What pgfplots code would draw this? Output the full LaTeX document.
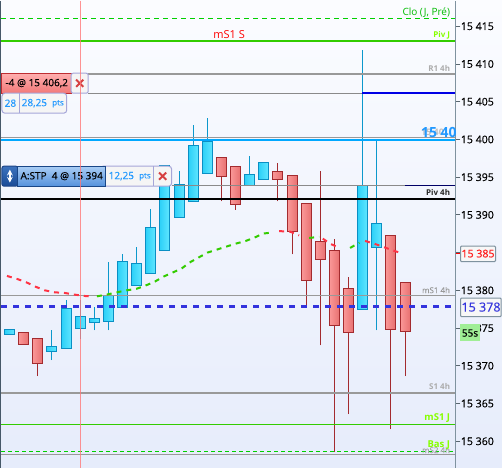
\documentclass[border=0pt]{standalone}
\usepackage{fontspec}
\setmainfont{Open Sans}
\newfontfamily\semi[FakeBold=0.4]{Open Sans}
\usepackage{pgfplots}
\pgfplotsset{compat=1.18}
\definecolor{bluebd}{HTML}{0A8FC4}
\definecolor{bluewk}{HTML}{0C98CC}
\definecolor{redbd}{HTML}{A32B2F}
\definecolor{redwk}{HTML}{A32B2F}
\definecolor{ggreen}{HTML}{33CC00}
\definecolor{dgreen}{HTML}{00D000}
\definecolor{lblue}{HTML}{00A8FF}
\definecolor{gline}{HTML}{999999}
\definecolor{dashblue}{HTML}{3333DD}
\definecolor{txtblue}{HTML}{2299FF}
\definecolor{boxbd}{HTML}{7F929F}
\definecolor{bodyBl}{HTML}{2CD0F8}
\definecolor{bodyBr}{HTML}{60E6FF}
\definecolor{bodyRl}{HTML}{FA9898}
\definecolor{bodyRr}{HTML}{E87070}
\definecolor{maRed}{HTML}{FF3344}
\newcommand\candleU[5]{%
  \pgfmathsetmacro\xa{#1-5}\pgfmathsetmacro\xb{#1+5}%
  \addplot[draw=bluewk,line width=1pt,forget plot] coordinates {(#1,#4)(#1,#5)};
  \addplot[draw=bluebd,line width=1pt,left color=bodyBl,right color=bodyBr,forget plot]
    coordinates {(\xa,#2)(\xb,#2)(\xb,#3)(\xa,#3)} --cycle;
  \addplot[draw=none,forget plot] coordinates {(#1,#2)};
}
\newcommand\candleD[5]{%
  \pgfmathsetmacro\xa{#1-5}\pgfmathsetmacro\xb{#1+5}%
  \addplot[draw=redwk,line width=1pt,forget plot] coordinates {(#1,#4)(#1,#5)};
  \addplot[draw=redbd,line width=1pt,left color=bodyRl,right color=bodyRr,forget plot]
    coordinates {(\xa,#2)(\xb,#2)(\xb,#3)(\xa,#3)} --cycle;
  \addplot[draw=none,forget plot] coordinates {(#1,#2)};
}
\newcommand\xmark[2]{\draw[color={rgb,255:red,214;green,64;blue,64},line width=2pt] (#1-3.6,#2-3.6)--(#1+3.6,#2+3.6) (#1-3.6,#2+3.6)--(#1+3.6,#2-3.6);}
\begin{document}
\begin{tikzpicture}[every node/.style={inner sep=0pt,outer sep=0pt}]
\shade[top color={rgb,255:red,251;green,252;blue,255},bottom color={rgb,255:red,230;green,236;blue,251}] (0,0) rectangle (502pt,467pt);
\begin{axis}[
  at={(0,0)},anchor=south west,scale only axis,width=455.3pt,height=467pt,
  xmin=0,xmax=455.3,ymin=15356.52,ymax=15418.38,
  axis x line=none,axis y line*=right,
  scaled y ticks=false,
  axis line style={draw=boxbd,line width=0.8pt},
  ytick={15360,15365,15370,15375,15380,15385,15390,15395,15400,15405,15410,15415},
  yticklabels={15 360,15 365,15 370,15 375,15 380,15 385,15 390,15 395,15 400,15 405,15 410,15 415},
  yticklabel style={font=\fontsize{10.6}{12}\selectfont\semi,text=black,xshift=0.5pt},
  y tick style={draw=boxbd!70!black,line width=0.8pt},
  tick align=outside,major tick length=5pt,
  clip=true]
% candles: x, body low, body high, wick low, wick high
\candleU{9.5}{15374.10}{15374.76}{15374.10}{15374.76}
\candleD{23.3}{15372.77}{15374.36}{15372.77}{15374.36}
\candleD{37.3}{15370.26}{15373.57}{15368.62}{15373.57}
\candleU{51.3}{15371.85}{15372.51}{15370.74}{15374.76}
\candleU{66.3}{15372.25}{15377.54}{15372.25}{15378.77}
\candleU{80.3}{15374.89}{15376.48}{15373.61}{15378.77}
\candleU{94.3}{15375.69}{15376.22}{15374.71}{15377.81}
\candleU{108.3}{15375.90}{15379.26}{15374.71}{15383.77}
\candleU{122.3}{15377.68}{15383.77}{15377.68}{15384.87}
\candleU{136.3}{15380.67}{15383.50}{15380.67}{15385.75}
\candleU{150.3}{15382.18}{15388.27}{15382.18}{15390.79}
\candleU{164.3}{15385.23}{15396.52}{15385.23}{15396.52}
\candleU{179.3}{15389.60}{15394.01}{15389.60}{15395.86}
\candleU{193.3}{15391.72}{15399.13}{15391.72}{15401.95}
\candleU{207.3}{15395.42}{15399.79}{15395.42}{15402.88}
\candleD{221.3}{15395.03}{15397.62}{15391.79}{15397.62}
\candleD{235.3}{15391.32}{15396.35}{15390.70}{15396.35}
\candleU{249.3}{15393.87}{15395.29}{15393.87}{15397.85}
\candleU{263.3}{15394.63}{15396.88}{15394.63}{15396.88}
\candleD{277.3}{15394.63}{15395.69}{15391.79}{15396.88}
\candleD{292.3}{15387.74}{15395.16}{15384.77}{15395.16}
\candleD{306.3}{15381.25}{15391.45}{15377.81}{15391.45}
\candleD{320.3}{15384.03}{15386.42}{15372.72}{15395.86}
\candleD{334.3}{15375.29}{15385.23}{15358.60}{15386.85}
\candleD{348.3}{15374.44}{15380.19}{15363.58}{15381.82}
\candleU{362.3}{15377.41}{15393.87}{15377.41}{15411.85}
\candleU{376.3}{15385.62}{15388.80}{15374.71}{15399.83}
\candleD{390.3}{15374.76}{15387.21}{15361.60}{15387.21}
\candleD{405.3}{15374.50}{15380.99}{15368.62}{15380.99}
% level lines
\addplot[draw=ggreen,line width=2pt] coordinates {(1,15412.99)(455,15412.99)};
\addplot[draw=gline,line width=2pt] coordinates {(88,15408.62)(455,15408.62)};
\addplot[draw=gline!90!black,line width=1pt] coordinates {(88,15406.15)(362,15406.15)};
\addplot[draw=blue!90!black,line width=2pt] coordinates {(362,15406.15)(455,15406.15)};
\addplot[draw=gline,line width=1pt] coordinates {(1,15400.32)(455,15400.32)};
\addplot[draw=lblue,line width=2pt] coordinates {(1,15399.87)(455,15399.87)};
\addplot[draw=gline!90!black,line width=1pt] coordinates {(172,15393.83)(404.7,15393.83)};
\addplot[draw=blue!40!black,line width=1pt] coordinates {(404.7,15393.83)(455,15393.83)};
\addplot[draw=black,line width=2pt] coordinates {(1,15392.15)(455,15392.15)};
\addplot[draw=gline,line width=1pt] coordinates {(1,15379.26)(455,15379.26)};
\addplot[draw=dashblue,line width=3pt,dash pattern=on 6pt off 6pt] coordinates {(1,15377.81)(455,15377.81)};
\addplot[draw=gline,line width=2pt] coordinates {(1,15366.46)(455,15366.46)};
\addplot[draw=ggreen,line width=1pt] coordinates {(1,15362.18)(455,15362.18)};
\addplot[draw=gline,line width=1pt] coordinates {(1,15358.25)(455,15358.25)};
\addplot[draw=dgreen,line width=1pt,dash pattern=on 4pt off 3pt] coordinates {(1,15358.60)(455,15358.60)};
\addplot[draw=dgreen,line width=1pt,dash pattern=on 5pt off 4pt] coordinates {(1,15416.05)(455,15416.05)};
% moving average
\addplot[draw=maRed,line width=2pt,dash pattern=on 5pt off 5pt] coordinates {(6.7,15381.91)(16.7,15381.52)(26,15381.07)(35,15380.50)(44.3,15380.01)(54.3,15379.74)(64.3,15379.66)(74,15379.44)(84,15379.26)(93.3,15379.17)};
\addplot[draw=ggreen,line width=2pt,dash pattern=on 5pt off 5pt] coordinates {(96.7,15379.21)(106.7,15379.44)(116.7,15379.74)(126.7,15380.01)(136,15380.19)(145.3,15380.63)(154.7,15381.16)(163.3,15381.82)(172.3,15382.35)(181.3,15382.88)(189.3,15383.68)(198.3,15384.34)(207.3,15385.00)(216.7,15385.40)(226,15385.79)(235.7,15386.19)(245.7,15386.55)(254.3,15386.99)(263,15387.52)(273,15387.69)};
\addplot[draw=maRed,line width=2pt,dash pattern=on 5pt off 5pt] coordinates {(279,15387.85)(290,15387.78)(299,15387.29)};
\addplot[draw=ggreen,line width=2pt,dash pattern=on 5pt off 5pt] coordinates {(309,15386.95)(319,15387.08)};
\addplot[draw=maRed,line width=2pt,dash pattern=on 5pt off 5pt] coordinates {(322.7,15386.85)(330,15386.19)(339.3,15385.62)};
\addplot[draw=ggreen,line width=2pt,dash pattern=on 5pt off 5pt] coordinates {(350,15385.62)(359.3,15386.32)};
\addplot[draw=maRed,line width=2pt,dash pattern=on 5pt off 5pt] coordinates {(365,15386.55)(374,15386.19)(383.3,15385.75)(392.7,15385.30)(402.7,15384.87)};
\end{axis}
\draw[color={rgb,255:red,70;green,88;blue,104},line width=1.5pt] (0.5pt,0)--(0.5pt,467pt);
\begin{scope}[x=1pt,y=-1pt,yshift=467pt]
% level labels
\node[anchor=east,text=dgreen!90!black,font=\fontsize{10}{11}\selectfont] at (450,11.5) {Clo (J, Pré)};
\node[anchor=east,text=lime!70!green,font=\fontsize{8}{9}\selectfont\bfseries] at (450,35) {Piv J};
\node[anchor=center,text=red,font=\fontsize{11}{12}\selectfont] at (229,33.5) {mS1 S};
\node[anchor=east,text=gray!65,font=\fontsize{8}{9}\selectfont\bfseries] at (450,68) {R1 4h};
\begin{scope}
\clip (400,100) rectangle (455,150);
\node[anchor=west,text=gray!50,font=\fontsize{9}{10}\selectfont\bfseries] at (421,131.5) {15 40};
\node[anchor=west,text=txtblue,font=\fontsize{14}{15}\selectfont\bfseries] at (421,132) {15 40};
\end{scope}
\node[anchor=east,text=black!85,font=\fontsize{8}{9}\selectfont\bfseries] at (450,192) {Piv 4h};
\node[anchor=east,text=gray!80,font=\fontsize{8}{9}\selectfont\semi] at (450,289.5) {mS1 4h};
\node[anchor=east,text=gray!65,font=\fontsize{8}{9}\selectfont\bfseries] at (450,386) {S1 4h};
\node[anchor=east,text=lime!70!green,font=\fontsize{9.5}{10}\selectfont\bfseries] at (450,418) {mS1 J};
\node[anchor=east,text=gray!70,font=\fontsize{8}{9}\selectfont\semi] at (450,449.5) {mS2 4h};
\node[anchor=east,text=lime!70!green,font=\fontsize{9.5}{10}\selectfont\bfseries] at (450,445) {Bas J};
% order tag top
\shade[top color={rgb,255:red,255;green,175;blue,175},bottom color={rgb,255:red,242;green,120;blue,120},draw={rgb,255:red,190;green,45;blue,50},line width=1pt] (1.7,72.5) rectangle (71,92.5);
\node[anchor=center,text=black,font=\fontsize{10}{12}\selectfont\semi] at (36.5,82.5) {-4 @ 15 406,2};
\draw[fill=gray!8,draw=gray!60!blue!50,line width=1pt,rounded corners=2pt] (71,72.5) -- (88,72.5) -- (88,92.5) -- (71,92.5) -- cycle;
\xmark{79.5}{82.5}
\draw[fill=gray!8,draw=gray!60!blue!50,line width=1pt,rounded corners=3pt] (1.7,92.5) -- (66.5,92.5) -- (66.5,112.5) -- (1.7,112.5) -- cycle;
\draw[gray!60!blue!50,line width=0.8pt] (18.7,92.5)--(18.7,112.5);
\node[text=txtblue,font=\fontsize{10}{12}\selectfont\semi] at (10.2,102.5) {28};
\node[anchor=west,text=txtblue,font=\fontsize{10}{12}\selectfont\semi] at (21.5,102.5) {28,25};
\node[anchor=west,text=txtblue,font=\fontsize{8}{9}\selectfont\semi] at (52,103) {pts};
% order tag stop
\draw[fill=gray!8,draw=gray!60!blue!50,line width=1pt,rounded corners=3pt] (100,165.5) -- (171.5,165.5) -- (171.5,185.5) -- (100,185.5) -- cycle;
\shade[top color={rgb,255:red,60;green,115;blue,190},bottom color={rgb,255:red,25;green,75;blue,150},draw={rgb,255:red,30;green,70;blue,135},line width=1pt,rounded corners=2pt] (1.7,165.5) rectangle (17.5,185.5);
\draw[white,line width=1.6pt,<->,>=stealth] (9.6,169)--(9.6,182);
\shade[top color={rgb,255:red,170;green,206;blue,245},bottom color={rgb,255:red,85;green,145;blue,220},draw={rgb,255:red,25;green,70;blue,135},line width=1pt] (17.5,165.5) rectangle (105.5,185.5);
\node[anchor=center,text=black,font=\fontsize{10}{12}\selectfont\semi] at (61.5,175.5) {A:STP\ \ 4 @ 15 394};
\draw[gray!60!blue!50,line width=0.8pt] (153.5,165.5)--(153.5,185.5);
\node[anchor=west,text=txtblue,font=\fontsize{10}{12}\selectfont\semi] at (108.5,175.5) {12,25};
\node[anchor=west,text=txtblue,font=\fontsize{8}{9}\selectfont\semi] at (139,176) {pts};
\xmark{162.5}{175.5}
% pink vertical
\draw[color={rgb,255:red,255;green,120;blue,120},opacity=.8,line width=1pt] (80.5,0)--(80.5,467);
% right boxes
\draw[red,line width=0.8pt] (455.5,253)--(460,253);
\draw[fill=gray!6,draw=boxbd,line width=1pt,rounded corners=1pt] (460.5,245.5) rectangle (495.5,261);
\node[text=red!90!white,font=\fontsize{10.6}{12}\selectfont\semi] at (478,253) {15 385};
\draw[fill=gray!6,draw=boxbd,line width=1pt,rounded corners=1pt] (460.5,297.5) rectangle (501.2,316);
\node[text=dashblue,font=\fontsize{12.5}{14}\selectfont\semi] at (481,306.5) {15 378};
\fill[color={rgb,255:red,160;green,238;blue,150}] (460,323) rectangle (480,340);
\node[text=black,font=\fontsize{10}{11}\selectfont\semi] at (470,332.5) {55s};
\end{scope}
\end{tikzpicture}
\end{document}
